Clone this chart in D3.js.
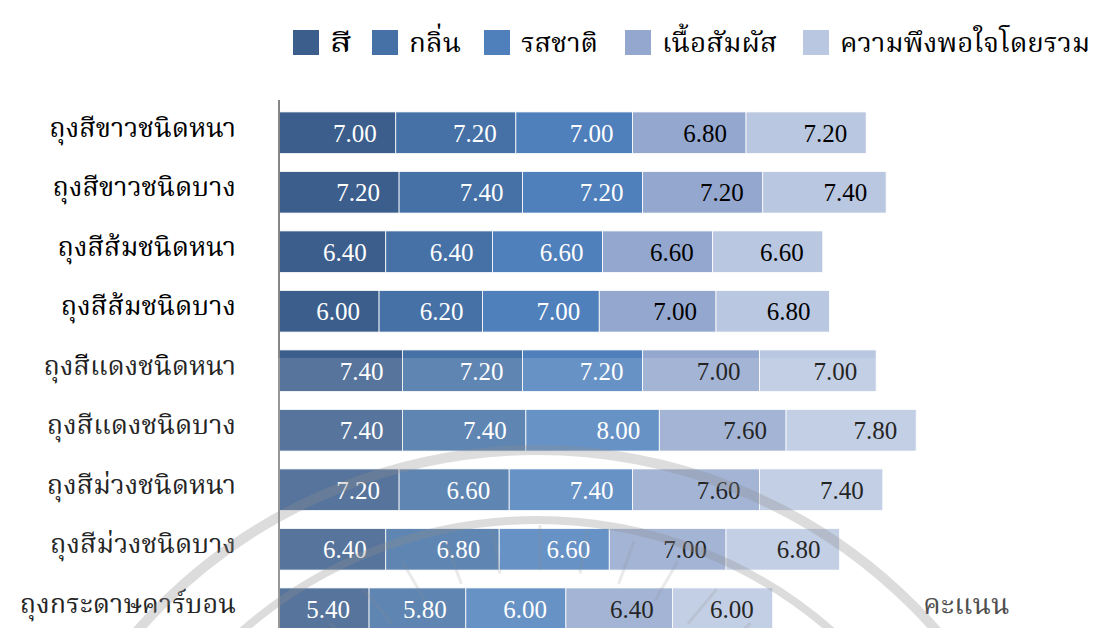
<!DOCTYPE html>
<html>
<head>
<meta charset="utf-8">
<script src="https://cdn.jsdelivr.net/npm/d3@7"></script>
<style>
  body { margin: 0; background: #fff; }
  svg { display: block; }
  .num { font-family: "Liberation Serif", "Times New Roman", serif; }
  .thai { font-family: "Noto Serif Thai", "Noto Sans Thai", "Liberation Serif", serif; }
</style>
</head>
<body>
<div id="chart"></div>
<script>
// categories (top to bottom)
var categories = ["ถุงสีขาวชนิดหนา", "ถุงสีขาวชนิดบาง", "ถุงสีส้มชนิดหนา", "ถุงสีส้มชนิดบาง",
                  "ถุงสีแดงชนิดหนา", "ถุงสีแดงชนิดบาง", "ถุงสีม่วงชนิดหนา", "ถุงสีม่วงชนิดบาง", "ถุงกระดาษคาร์บอน"];
var seriesNames = ["สี", "กลิ่น", "รสชาติ", "เนื้อสัมผัส", "ความพึงพอใจโดยรวม"];

var colour     = [7.00, 7.20, 6.40, 6.00, 7.40, 7.40, 7.20, 6.40, 5.40];
var smell      = [7.20, 7.40, 6.40, 6.20, 7.20, 7.40, 6.60, 6.80, 5.80];
var taste      = [7.00, 7.20, 6.60, 7.00, 7.20, 8.00, 7.40, 6.60, 6.00];
var texture    = [6.80, 7.20, 6.60, 7.00, 7.00, 7.60, 7.60, 7.00, 6.40];
var overall    = [7.20, 7.40, 6.60, 6.80, 7.00, 7.80, 7.40, 6.80, 6.00];
var axisTitle = "คะแนน";

var colors = ["#3B5E8C", "#4571A6", "#4F80BC", "#94A8CF", "#BAC7E0"];
var labelColors = ["#fff", "#fff", "#fff", "#000", "#000"];

var W = 1096, H = 628;
var svg = d3.select("#chart").append("svg")
    .attr("width", W).attr("height", H);

var rows = categories.map(function (c, i) {
    return {cat: c, s0: colour[i], s1: smell[i], s2: taste[i], s3: texture[i], s4: overall[i]};
});
var stack = d3.stack().keys(["s0", "s1", "s2", "s3", "s4"])(rows);

var x = d3.scaleLinear().domain([0, 40]).range([279, 279 + 16.68 * 40]);
var y = d3.scaleBand().domain(categories).range([103, 103 + 59.5 * 9])
    .paddingInner(0.3).paddingOuter(0.15);

// bars
var layer = svg.selectAll(".layer").data(stack).enter().append("g")
    .attr("fill", function (d, i) { return colors[i]; });

layer.selectAll("rect").data(function (d) { return d; }).enter().append("rect")
    .attr("x", function (d) { return x(d[0]); })
    .attr("y", function (d) { return y(d.data.cat); })
    .attr("width", function (d) { return x(d[1]) - x(d[0]); })
    .attr("height", y.bandwidth())
    .attr("stroke", "#fff")
    .attr("stroke-width", 0.8);

// value labels (inside end)
stack.forEach(function (s, si) {
    svg.append("g").selectAll("text").data(s).enter().append("text")
        .attr("class", "num")
        .attr("x", function (d) { return x(d[1]) - 19; })
        .attr("y", function (d) { return y(d.data.cat) + y.bandwidth() / 2; })
        .attr("dy", "0.35em")
        .attr("text-anchor", "end")
        .attr("font-size", 25)
        .attr("fill", labelColors[si])
        .text(function (d) { return (d[1] - d[0]).toFixed(2); });
});

// category axis
var yAxis = svg.append("g")
    .attr("transform", "translate(279,0)")
    .call(d3.axisLeft(y).tickSize(0).tickPadding(43));
yAxis.select(".domain").remove();
yAxis.selectAll("text")
    .attr("class", "thai")
    .attr("font-size", 27)
    .attr("dy", "0.15em")
    .attr("fill", "#000");

svg.append("line")
    .attr("x1", 279).attr("x2", 279)
    .attr("y1", 100).attr("y2", H)
    .attr("stroke", "#868686").attr("stroke-width", 2);

// axis title
svg.append("text")
    .attr("class", "thai")
    .attr("x", 923).attr("y", 614)
    .attr("font-size", 28)
    .attr("fill", "#333")
    .text(axisTitle);

// legend
var legendX = [293, 372, 484, 625, 803];
var legendW = [22, 52, 77, 115, 250];
var legend = svg.append("g").selectAll("g").data(seriesNames).enter().append("g")
    .attr("transform", function (d, i) { return "translate(" + legendX[i] + ",30)"; });
legend.append("rect")
    .attr("width", 26).attr("height", 25)
    .attr("fill", function (d, i) { return colors[i]; });
legend.append("text")
    .attr("class", "thai")
    .attr("x", 37).attr("y", 12.5).attr("dy", "0.35em")
    .attr("font-size", 27)
    .attr("textLength", function (d, i) { return legendW[i]; })
    .attr("lengthAdjust", "spacingAndGlyphs")
    .text(function (d) { return d; });

// faint watermark (university seal) over the lower half
svg.append("rect")
    .attr("x", 0).attr("y", 358).attr("width", W).attr("height", H - 358)
    .attr("fill", "#fff").attr("opacity", 0.14);
var wm = svg.append("g").attr("fill", "none").attr("stroke", "#8f8f8f").attr("opacity", 0.3);
wm.append("circle").attr("cx", 537).attr("cy", 982).attr("r", 532).attr("stroke-width", 10);
wm.append("circle").attr("cx", 537).attr("cy", 967).attr("r", 447).attr("stroke-width", 8);
d3.range(-150, -29, 10).forEach(function (a) {
    var t = a * Math.PI / 180;
    wm.append("line")
        .attr("x1", 540 + 230 * Math.cos(t)).attr("y1", 800 + 230 * Math.sin(t))
        .attr("x2", 540 + 275 * Math.cos(t)).attr("y2", 800 + 275 * Math.sin(t))
        .attr("stroke-width", 3)
        .attr("opacity", 0.6);
});
</script>
</body>
</html>
